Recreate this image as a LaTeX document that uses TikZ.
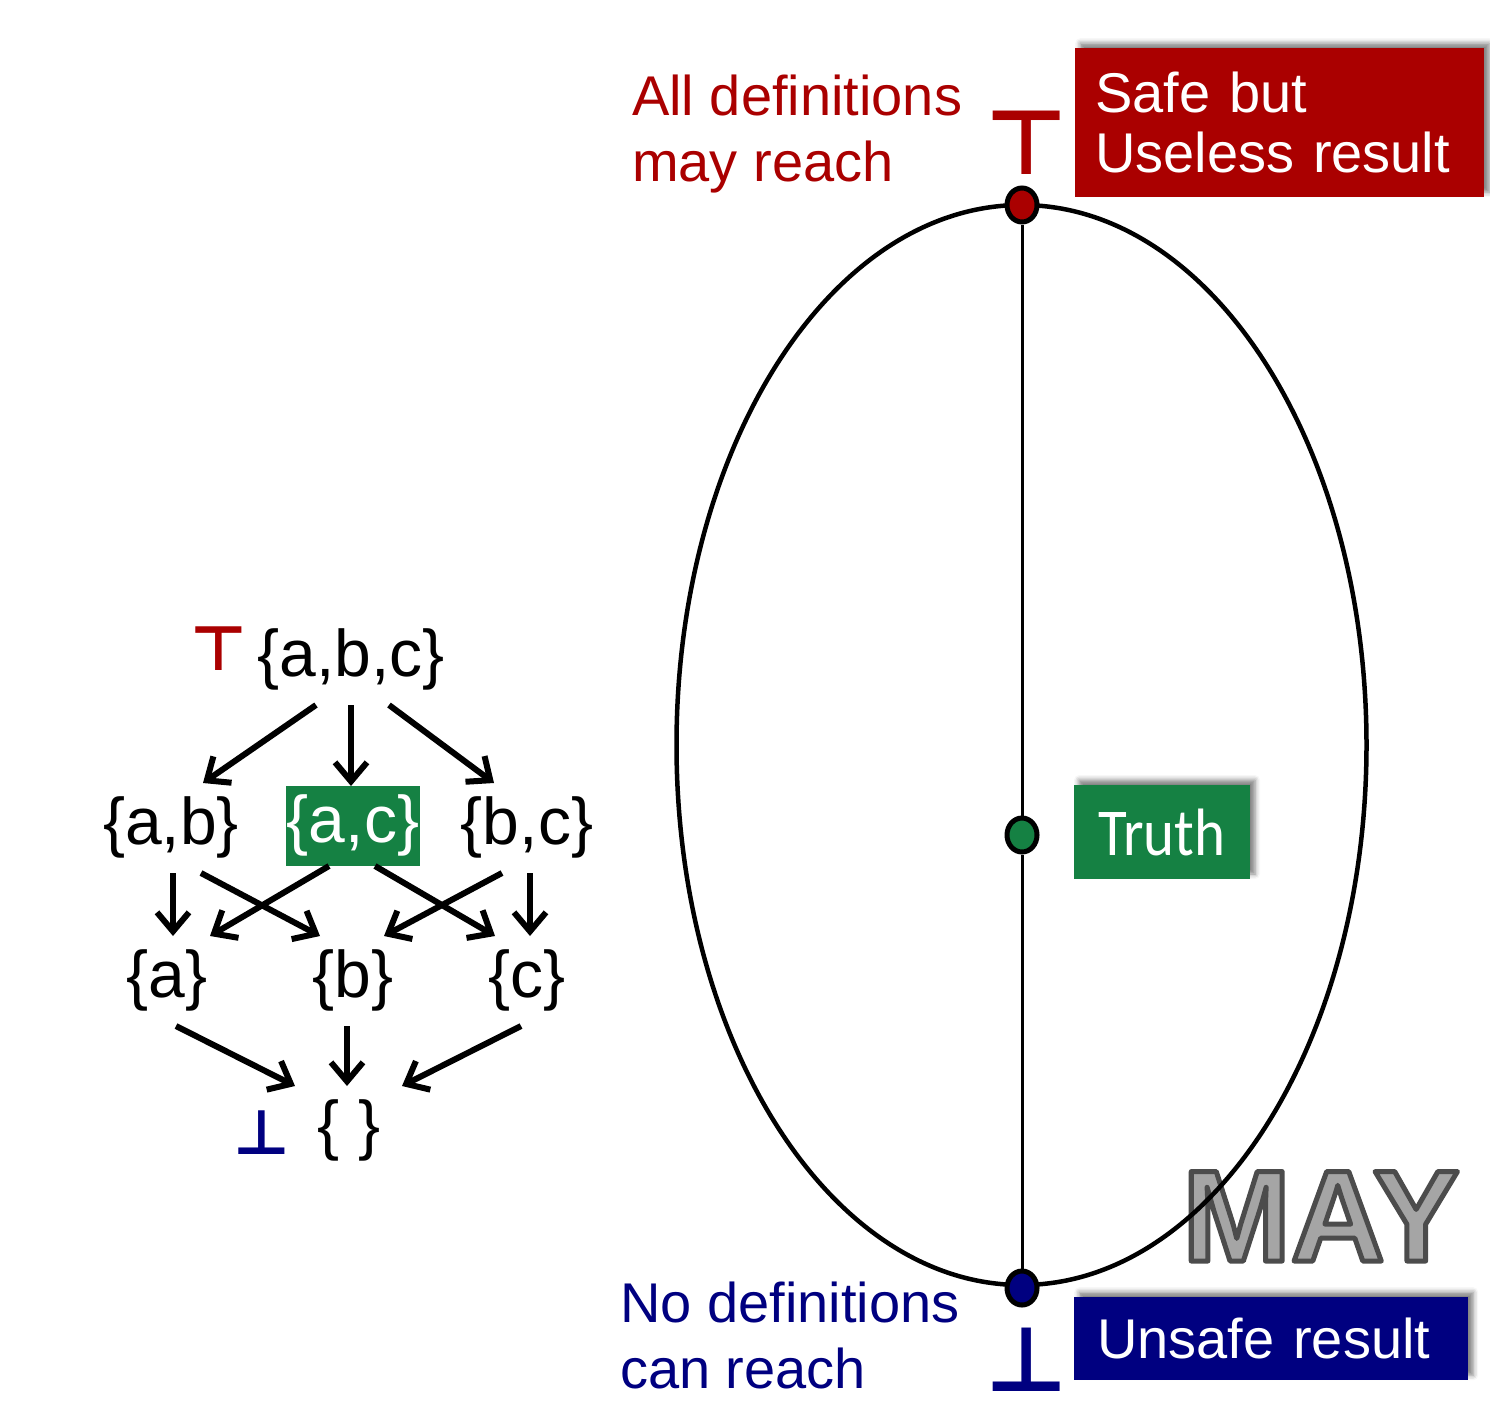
\documentclass[tikz,border=0pt]{standalone}
\usepackage{fontspec}
\setmainfont{Liberation Sans}
\newfontfamily\symfont{DejaVu Sans}
\newfontfamily\truthfont{Carlito}[FakeStretch=0.88]
\usetikzlibrary{arrows.meta,shapes.geometric,shadows.blur}
\definecolor{safered}{RGB}{170,0,0}
\definecolor{truthgreen}{RGB}{21,129,67}
\definecolor{unsafeblue}{RGB}{0,0,128}
\definecolor{maygray}{RGB}{165,165,165}
\newcommand\outlinetext[1]{\special{pdf:code q 2 Tr 5 w 1 j 0.3 G}#1\special{pdf:code Q}}
\begin{document}
\begin{tikzpicture}[
    x=1pt, y=-1pt,
    line cap=butt,
    setnode/.style={font=\fontsize{66}{70}\selectfont, inner sep=0pt, outer sep=12pt,
                    text height=49pt, text depth=17pt},
    arr/.style={line width=6pt, -{Straight Barb[length=19pt,width=32pt]}},
    bigdot/.style={ellipse, draw, line width=5pt, minimum width=30pt, minimum height=34pt, inner sep=0pt},
    resbox/.style={rectangle, text=white, font=\fontsize{56}{60}\selectfont, inner ysep=0pt,
                   blur shadow={shadow xshift=5pt, shadow yshift=5pt, shadow blur radius=5pt, shadow opacity=50}},
    lbl/.style={font=\fontsize{56}{66}\selectfont, align=left, inner sep=0pt, anchor=base west},
    sym/.style={inner sep=0pt}
]
\useasboundingbox (0,0) rectangle (1490,1422);

% -------------------------------------------------
% Lattice of definition sets
% -------------------------------------------------

\node[setnode] (abc)   at (351,660)  {\{a,b,c\}};
\node[setnode] (ab)    at (171,828)  {\{a,b\}};
\node[setnode, fill=truthgreen, text=white, inner xsep=1pt, inner ysep=7pt, outer sep=0pt]
               (ac)    at (353,826)  {\{a,c\}};
\node[setnode] (bc)    at (527,828)  {\{b,c\}};
\node[setnode] (a)     at (167,981)  {\{a\}};
\node[setnode] (b)     at (353,981)  {\{b\}};
\node[setnode] (c)     at (527,981)  {\{c\}};
\node[setnode] (empty) at (349,1131) {\{ \}};

\node[sym, font=\symfont\bfseries\fontsize{62}{62}\selectfont, text=safered]    (topsym) at (219,649)  {⊤};
\node[sym, font=\symfont\bfseries\fontsize{62}{62}\selectfont, text=unsafeblue] (botsym) at (262,1133) {⊥};

% -------------------------------------------------
% Lattice order
% -------------------------------------------------

\draw[arr] ([xshift=-35pt]abc.south) -- ([xshift=32pt]ab.north);
\draw[arr] (abc.south) -- ([xshift=-2pt]ac.north);
\draw[arr] ([xshift=38pt]abc.south) -- ([xshift=-33pt]bc.north);

\draw[arr] ([xshift=2pt]ab.south)   -- ([xshift=6pt]a.north);
\draw[arr] ([xshift=30pt]ab.south)  -- ([xshift=-33pt]b.north);
\draw[arr] ([xshift=-24pt]ac.south) -- ([xshift=43pt]a.north);
\draw[arr] ([xshift=22pt]ac.south)  -- ([xshift=-32pt]c.north);
\draw[arr] ([xshift=-25pt]bc.south) -- ([xshift=31pt]b.north);
\draw[arr] ([xshift=3pt]bc.south)   -- ([xshift=3pt]c.north);

\draw[arr] ([xshift=9pt]a.south)  -- ([xshift=-54pt]empty.north);
\draw[arr] ([xshift=-6pt]b.south) -- ([xshift=-2pt]empty.north);
\draw[arr] ([xshift=-6pt]c.south) -- ([xshift=53pt]empty.north);

% -------------------------------------------------
% MAY label
% -------------------------------------------------

\node[font=\bfseries\fontsize{130}{130}\selectfont, text=maygray, inner sep=0pt, anchor=base]
    (may) at (1321,1261) {\outlinetext{MAY}};

% -------------------------------------------------
% Space of solutions
% -------------------------------------------------

\draw[line width=4.5pt] (1021.5,745) ellipse [x radius=345, y radius=540];

\node[bigdot, fill=safered]    (topdot)   at (1022,205)  {};
\node[bigdot, fill=truthgreen] (truthdot) at (1022,835)  {};
\node[bigdot, fill=unsafeblue] (botdot)   at (1022,1288) {};

\draw[line width=3pt] (topdot) -- (truthdot) -- (botdot);

\node[sym, font=\symfont\bfseries\fontsize{90}{90}\selectfont, text=safered]    (topbig) at (1027,143)  {⊤};
\node[sym, font=\symfont\bfseries\fontsize{90}{90}\selectfont, text=unsafeblue] (botbig) at (1027,1360) {⊥};

% -------------------------------------------------
% Labels
% -------------------------------------------------

\node[lbl, text=safered]    (alldefs) at (632,181)  {All definitions\\may reach};
\node[lbl, text=unsafeblue] (nodefs)  at (620,1388) {No definitions\\can reach};

\node[resbox, fill=safered, anchor=north west, minimum height=149pt, text width=369pt,
      inner xsep=20pt, align=left] (safe) at (1075,48) {Safe but\\Useless result};
\node[resbox, fill=truthgreen, font=\truthfont\fontsize{67}{70}\selectfont,
      minimum width=176pt, minimum height=94pt] (truth) at (1162,832) {Truth};
\node[resbox, fill=unsafeblue, anchor=north west, minimum height=83pt, text width=348pt,
      inner xsep=23pt, align=left] (unsafe) at (1074,1297) {Unsafe result};

\end{tikzpicture}
\end{document}
